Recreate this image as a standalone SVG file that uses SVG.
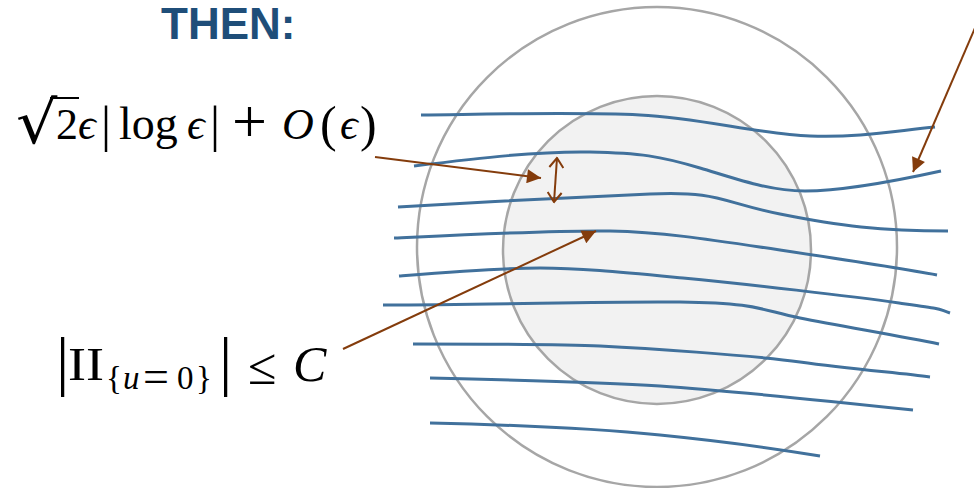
<svg xmlns="http://www.w3.org/2000/svg" width="974" height="488" viewBox="0 0 974 488">
<style>
.circ{stroke:#a6a6a6;stroke-width:2.5}
.fl{fill:none;stroke:#41719c;stroke-width:3;stroke-linecap:butt}
.ar{fill:none;stroke:#843c0c;stroke-width:2}
.m{font-family:"Liberation Serif","DejaVu Serif",serif;fill:#000}
.it{font-style:italic}
.title{font-family:"Liberation Sans",Arial,sans-serif;font-weight:bold;font-size:44px;fill:#1f4e79}
</style>
<defs>
<marker id="tri" viewBox="0 0 10 10" refX="10" refY="5" markerWidth="15" markerHeight="14" markerUnits="userSpaceOnUse" orient="auto">
<path d="M0,0 L10,5 L0,10 z" fill="#843c0c"/>
</marker>
<marker id="vee" viewBox="0 0 10 16" refX="9.5" refY="8" markerWidth="12" markerHeight="16" markerUnits="userSpaceOnUse" orient="auto-start-reverse">
<path d="M0,1 L9.5,8 L0,15" fill="none" stroke="#843c0c" stroke-width="2"/>
</marker>
</defs>
<g id="outer-circle"><circle class="circ" cx="657" cy="247" r="240" fill="none"/></g>
<g id="inner-circle"><circle class="circ" cx="657" cy="250" r="154" fill="#f2f2f2"/></g>
<g id="field-lines">
<path class="fl" d="M421,115 C500,114 580,112 640,115 S760,134 810,136 S900,130 935,127"/>
<path class="fl" d="M414,166 C480,158 540,151 590,152 S660,156 700,168 S770,191 805,191 S900,180 941,171"/>
<path class="fl" d="M398,207 C480,202 580,197 650,194 S720,202 780,214 S880,231 948,231"/>
<path class="fl" d="M394,238 C480,234 560,230 610,231 S700,238 780,250 S900,268 937,275"/>
<path class="fl" d="M399,276 C450,272 500,268 540,268 S620,272 683,278 S850,296 899,303 S935,308 950,313"/>
<path class="fl" d="M383,305 C500,305 600,301 680,302 S760,310 800,318 S900,336 939,344"/>
<path class="fl" d="M413,344 C500,344 560,344 600,346 S750,355 800,362 S900,373 930,377"/>
<path class="fl" d="M430,378 C520,380 600,382 660,386 S800,398 913,410"/>
<path class="fl" d="M430,423 C520,425 600,429 660,435 S760,446 820,456"/>
</g>
<g id="connectors">
<line class="ar" x1="375" y1="157" x2="541" y2="178" marker-end="url(#tri)"/>
<line class="ar" x1="343" y1="349" x2="596" y2="231" marker-end="url(#tri)"/>
<line class="ar" x1="981" y1="14" x2="913" y2="172" marker-end="url(#tri)"/>
<line class="ar" x1="557" y1="158" x2="554" y2="202" marker-start="url(#vee)" marker-end="url(#vee)"/>
</g>
<g id="title"><text class="title" x="161" y="39">THEN:</text></g>
<g id="label-gap">
<text font-family="DejaVu Serif, serif" font-size="50" transform="translate(16,143) scale(1.3,1.18)">√</text>
<line x1="50" y1="98" x2="79" y2="98" stroke="#000" stroke-width="2"/>
<text class="m" font-size="46" y="139"><tspan x="56" font-size="44">2</tspan><tspan x="78" class="it" font-size="44">ϵ</tspan><tspan x="101" font-size="50" dy="2">|</tspan><tspan x="119" dy="-2">log</tspan><tspan x="187" class="it" font-size="44">ϵ</tspan><tspan x="210" font-size="50" dy="2">|</tspan><tspan x="232" font-size="62" dy="1">+</tspan><tspan x="282" class="it" font-size="44" dy="-3">O</tspan><tspan x="320" font-size="50" dy="2">(</tspan><tspan x="340" class="it" font-size="44" dy="-2">ϵ</tspan><tspan x="360" font-size="50" dy="2">)</tspan></text>
</g>
<g id="label-curvature">
<text class="m" font-size="66" x="56" y="383">|</text>
<text class="m" font-size="46" x="68" y="380" textLength="36" lengthAdjust="spacingAndGlyphs">II</text>
<text class="m" font-size="33" y="389"><tspan x="106">{</tspan><tspan x="123" class="it">u</tspan><tspan x="143" font-size="46" dy="3">=</tspan><tspan x="177" dy="-3">0</tspan><tspan x="196">}</tspan></text>
<text class="m" font-size="66" x="219" y="383">|</text>
<text class="m" font-size="52" x="248" y="384">≤</text>
<text class="m it" font-size="50" x="293" y="381">C</text>
</g>
</svg>
